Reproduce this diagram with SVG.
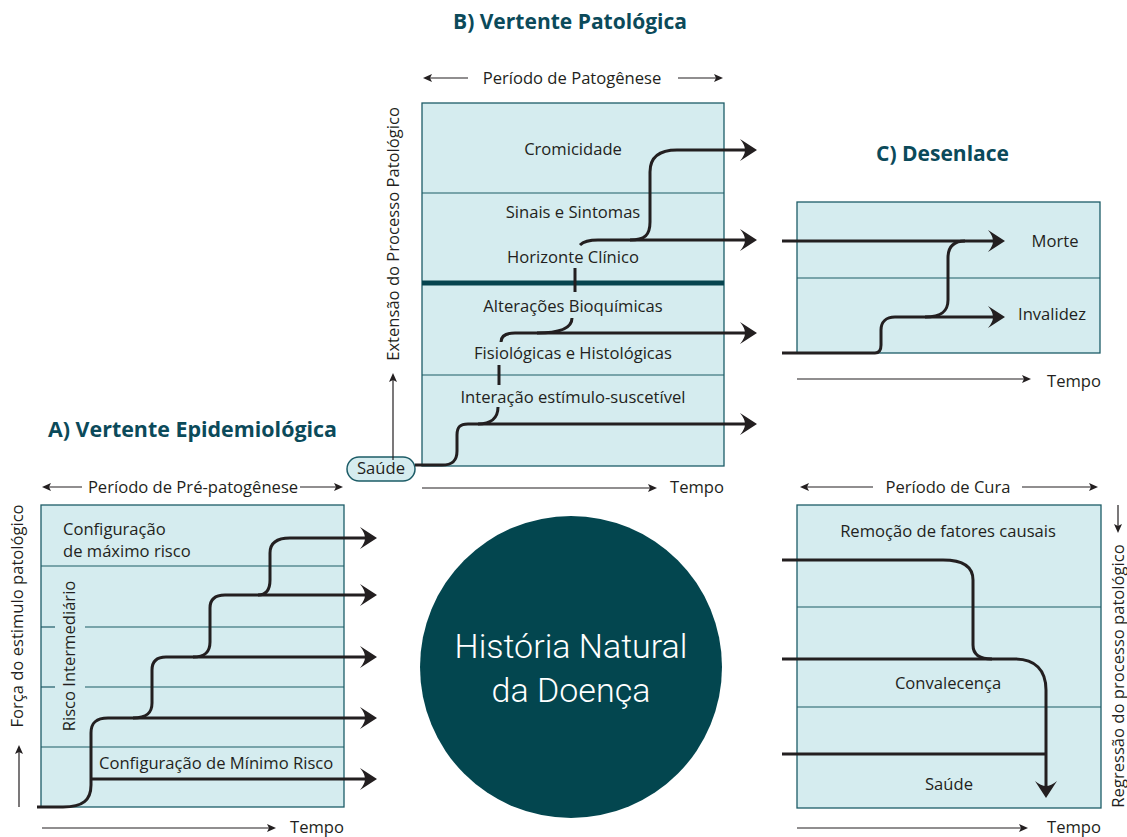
<svg xmlns="http://www.w3.org/2000/svg" width="1127" height="837" viewBox="0 0 1127 837">
<style>
.box{fill:#d5ecef;stroke:#1d5c67;stroke-width:1.3}
.div{stroke:#1d5c67;stroke-width:1.2;fill:none}
.t{font-family:"Open Sans","Liberation Sans",sans-serif;font-size:16.6px;fill:#231f20}
.c{text-anchor:middle}
.title{font-family:"Open Sans","Liberation Sans",sans-serif;font-weight:700;font-size:21px;fill:#0b4a5a}
.flow{fill:none;stroke:#231f20;stroke-width:3}
.big{marker-end:url(#ah)}
.axis{fill:none;stroke:#231f20;stroke-width:1.2;marker-end:url(#sa)}
</style>
<defs>
<marker id="ah" markerUnits="userSpaceOnUse" viewBox="-28 -12 29 24" refX="-10" refY="0" markerWidth="29" markerHeight="24" orient="auto">
<path d="M0,0 L-17,-11 Q-12,-5 -12,0 Q-12,5 -17,11 Z" fill="#231f20"/>
</marker>
<marker id="sa" markerUnits="userSpaceOnUse" viewBox="-12 -5 13 10" refX="-5" refY="0" markerWidth="13" markerHeight="10" orient="auto">
<path d="M0,0 L-9,-4 L-7,0 L-9,4 Z" fill="#231f20"/>
</marker>
</defs>

<g id="panel-b">
<text class="title c" x="570" y="29" textLength="234" lengthAdjust="spacingAndGlyphs">B) Vertente Patológica</text>
<text class="t c" x="572" y="84">Período de Patogênese</text>
<rect class="box" x="422" y="103" width="302" height="363"/>
<line class="div" x1="422" y1="193" x2="724" y2="193"/>
<line x1="422" y1="283" x2="724" y2="283" stroke="#06444f" stroke-width="5"/>
<line class="div" x1="422" y1="375" x2="724" y2="375"/>
<text class="t c" x="573" y="155">Cromicidade</text>
<text class="t c" x="573" y="218">Sinais e Sintomas</text>
<text class="t c" x="573" y="263">Horizonte Clínico</text>
<text class="t c" x="573" y="312">Alterações Bioquímicas</text>
<text class="t c" x="573" y="359">Fisiológicas e Histológicas</text>
<text class="t c" x="573" y="403">Interação estímulo-suscetível</text>
<text class="t c" transform="translate(399,234) rotate(-90)">Extensão do Processo Patológico</text>
<text class="t" x="670" y="493">Tempo</text>
</g>

<g id="saude-b">
<rect x="347" y="457" width="68" height="24" rx="12" fill="#d5ecef" stroke="#1d5c67" stroke-width="1.5"/>
<text class="t c" x="381" y="474">Saúde</text>
</g>

<g id="panel-a">
<text class="title" x="48" y="437" textLength="289" lengthAdjust="spacingAndGlyphs">A) Vertente Epidemiológica</text>
<text class="t c" x="193" y="493">Período de Pré-patogênese</text>
<rect class="box" x="41" y="505" width="303" height="302"/>
<line class="div" x1="41" y1="566" x2="344" y2="566"/>
<line class="div" x1="41" y1="627" x2="55" y2="627"/>
<line class="div" x1="85" y1="627" x2="344" y2="627"/>
<line class="div" x1="41" y1="687" x2="55" y2="687"/>
<line class="div" x1="85" y1="687" x2="344" y2="687"/>
<line class="div" x1="41" y1="747" x2="344" y2="747"/>
<text class="t" x="63" y="535">Configuração</text>
<text class="t" x="63" y="557">de máximo risco</text>
<text class="t" x="99" y="769">Configuração de Mínimo Risco</text>
<text class="t c" transform="translate(75,656) rotate(-90)">Risco Intermediário</text>
<text class="t c" transform="translate(23,616) rotate(-90)">Força do estimulo patológico</text>
<text class="t" x="290" y="833">Tempo</text>
</g>

<g id="panel-c">
<text class="title" x="876" y="161" textLength="133" lengthAdjust="spacingAndGlyphs">C) Desenlace</text>
<rect class="box" x="797" y="202" width="303" height="151"/>
<line class="div" x1="797" y1="278" x2="1100" y2="278"/>
<text class="t c" x="1055" y="247">Morte</text>
<text class="t c" x="1052" y="320">Invalidez</text>
<text class="t" x="1047" y="387">Tempo</text>
</g>

<g id="panel-cura">
<text class="t c" x="948" y="493">Período de Cura</text>
<rect class="box" x="797" y="505" width="304" height="303"/>
<line class="div" x1="797" y1="607" x2="1101" y2="607"/>
<line class="div" x1="797" y1="707" x2="1101" y2="707"/>
<text class="t c" x="948" y="537">Remoção de fatores causais</text>
<text class="t c" x="948" y="689">Convalecença</text>
<text class="t c" x="949" y="790">Saúde</text>
<text class="t c" transform="translate(1124,676) rotate(-90)">Regressão do processo patológico</text>
<text class="t" x="1047" y="833">Tempo</text>
</g>

<g id="center">
<circle cx="571" cy="667" r="151" fill="#03464f"/>
<text x="571" y="658" text-anchor="middle" font-family="Roboto,'Liberation Sans',sans-serif" font-weight="300" font-size="34" fill="#ffffff">História Natural</text>
<text x="571" y="702" text-anchor="middle" font-family="Roboto,'Liberation Sans',sans-serif" font-weight="300" font-size="34" fill="#ffffff">da Doença</text>
</g>

<g id="connectors">
<path class="axis" d="M468,78 H428"/>
<path class="axis" d="M678,78 H718"/>
<path class="axis" d="M422,488 H652"/>
<path class="axis" d="M393,460 V378"/>
<path class="axis" d="M82,487 H47"/>
<path class="axis" d="M300,487 H338"/>
<path class="axis" d="M42,828 H271"/>
<path class="axis" d="M19,807 V750"/>
<path class="axis" d="M873,487 H805"/>
<path class="axis" d="M1022,487 H1093"/>
<path class="axis" d="M1118,505 V528"/>
<path class="axis" d="M797,828 H1023"/>
<path class="axis" d="M797,379 H1026"/>

<path class="flow big" d="M415,465 H442 C452,465 457,461 457,451 V435 C457,427 460,424 468,424 H747"/>
<path class="flow" d="M478,424 C491,424 498,418 498,407"/>
<path class="flow" d="M499,365 V385" stroke-width="2.5"/>
<path class="flow big" d="M501,342 C501,336 505,333 515,333 H747"/>
<path class="flow" d="M537,333 C561,333 572,328 572,318"/>
<path class="flow" d="M575,268 V292" stroke-width="2.5"/>
<path class="flow big" d="M580,245 C584,241 590,240 598,240 H747"/>
<path class="flow big" d="M630,240 C645,240 650,235 650,222 V172 C650,157 660,150 677,150 H747"/>

<path class="flow big" d="M37,807 H63 C83,807 91,800 91,785 V733 C91,723 96,718 108,718 H367"/>
<path class="flow big" d="M91,779 H367"/>
<path class="flow big" d="M133,718 C147,718 152,713 152,703 V670 C152,662 156,657 166,657 H367"/>
<path class="flow big" d="M193,657 C205,657 210,652 210,642 V608 C210,600 214,595 225,595 H367"/>
<path class="flow big" d="M258,595 C266,595 270,590 270,580 V553 C270,543 276,538 290,538 H367"/>

<path class="flow big" d="M782,241 H995"/>
<path class="flow big" d="M782,353 H875 C879,353 881,350 881,345 V330 C881,322 886,317 895,317 H995"/>
<path class="flow" d="M925,317 C942,317 948,311 948,300 V258 C948,247 953,241 965,241"/>

<path class="flow" d="M782,560 H943 C963,560 973,567 973,580 V645 C973,655 980,659 992,659"/>
<path class="flow big" d="M782,659 H1015 C1035,659 1046,670 1046,690 V788"/>
<path class="flow" d="M782,754 H1046"/>
</g>
</svg>
